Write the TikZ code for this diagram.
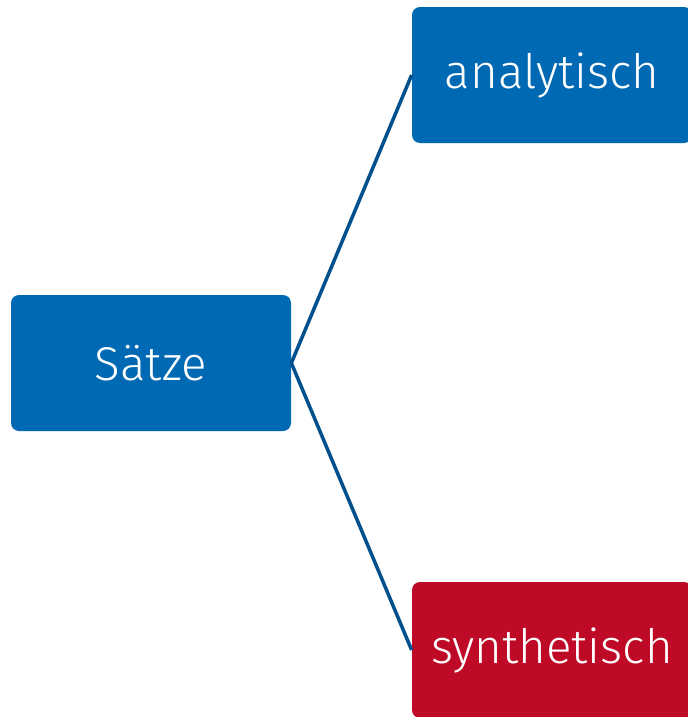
\documentclass[tikz,border=0pt]{standalone}
\usepackage{fontspec}
\setmainfont{Fira Sans Light}
\usepackage{xcolor}
\definecolor{boxblue}{RGB}{0,105,180}
\definecolor{boxred}{RGB}{190,10,38}
\definecolor{lineblue}{RGB}{0,80,142}
\begin{document}
\begin{tikzpicture}[x=0.02cm,y=-0.02cm,
 box/.style={rounded corners=8*0.02cm, minimum width=280*0.02cm, minimum height=136*0.02cm,
  text=white, inner sep=0pt, font=\fontsize{27}{32}\selectfont},
 branch/.style={lineblue, line width=2pt}]
 \useasboundingbox (0,0) rectangle (687,717);

 \node[box, fill=boxblue] (saetze) at (151,363) {Sätze};
 \node[box, fill=boxblue] (analytisch) at (552,75) {analytisch};
 \node[box, fill=boxred] (synthetisch) at (552,650) {synthetisch};

 %%%%%%%%%%%%%%%%%%%%%%%%%%%%%%%%%%%
 \draw[branch] (analytisch.west)--(saetze.east)--(synthetisch.west);
\end{tikzpicture}
\end{document}
